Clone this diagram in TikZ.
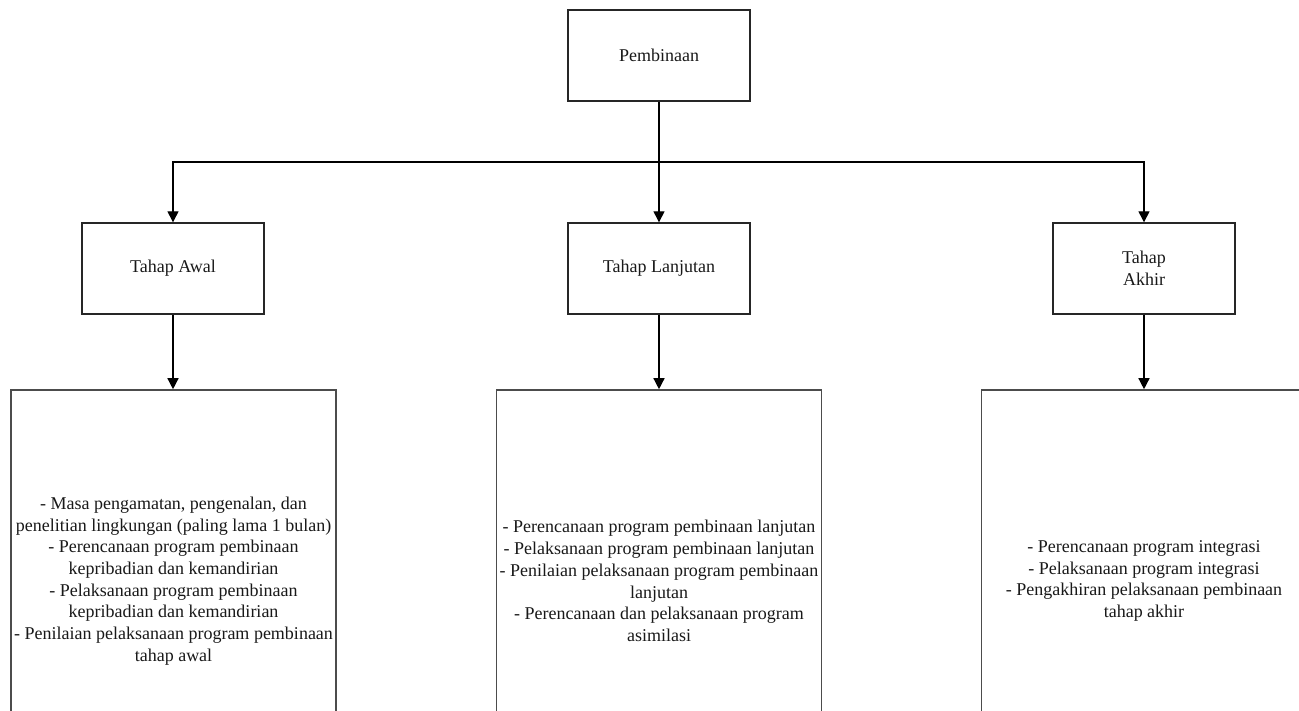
\documentclass[tikz,border=0pt]{standalone}
\usepackage{fontspec}
\setmainfont{Liberation Serif}
\newfontfamily\diafont{Liberation Serif}
\usetikzlibrary{arrows.meta}
\begin{document}
\begin{tikzpicture}[x=1pt,y=-1pt,
  box/.style={draw=black!85, line width=1.4pt, fill=white, inner sep=0pt,
    minimum width=182pt, minimum height=91pt, align=center,
    font=\diafont\fontsize{18}{21.7}\selectfont, text=black!90},
  listbox/.style={draw=black!70, line width=1.6pt, fill=white, inner sep=0pt,
    minimum width=325pt, minimum height=382pt, align=center,
    font=\diafont\fontsize{18}{21.7}\selectfont, text=black!90},
  conn/.style={draw=black, line width=1.4pt},
  arr/.style={conn, -{Triangle[length=11pt,width=11pt]}}]
\useasboundingbox (0,0) rectangle (1299,711);
\clip (0,0) rectangle (1299,711);
\fill[white] (0,0) rectangle (1299,711);
\node[box] (p) at (659,55.5) {Pembinaan};
\node[box] (awal) at (173,268.5) {Tahap Awal};
\node[box] (lanj) at (659,268.5) {Tahap Lanjutan};
\node[box] (akhir) at (1144,268.5) {Tahap\\Akhir};
\node[listbox] (la) at (173.5,581) {- Masa pengamatan, pengenalan, dan\\penelitian lingkungan (paling lama 1 bulan)\\- Perencanaan program pembinaan\\kepribadian dan kemandirian\\- Pelaksanaan program pembinaan\\kepribadian dan kemandirian\\- Penilaian pelaksanaan program pembinaan\\tahap awal};
\node[listbox] (ll) at (659,581) {- Perencanaan program pembinaan lanjutan\\- Pelaksanaan program pembinaan lanjutan\\- Penilaian pelaksanaan program pembinaan\\lanjutan\\- Perencanaan dan pelaksanaan program\\asimilasi};
\node[listbox] (lk) at (1144,581) {- Perencanaan program integrasi\\- Pelaksanaan program integrasi\\- Pengakhiran pelaksanaan pembinaan\\tahap akhir};
\coordinate (j) at (659,162);
\draw[conn] (p.south) -- (j);
\draw[arr] (j) -- (lanj.north);
\draw[arr] (j) -| (awal.north);
\draw[arr] (j) -| (akhir.north);
\draw[arr] (awal.south) -- (la.north -| awal.south);
\draw[arr] (lanj.south) -- (ll.north -| lanj.south);
\draw[arr] (akhir.south) -- (lk.north -| akhir.south);
\end{tikzpicture}
\end{document}
